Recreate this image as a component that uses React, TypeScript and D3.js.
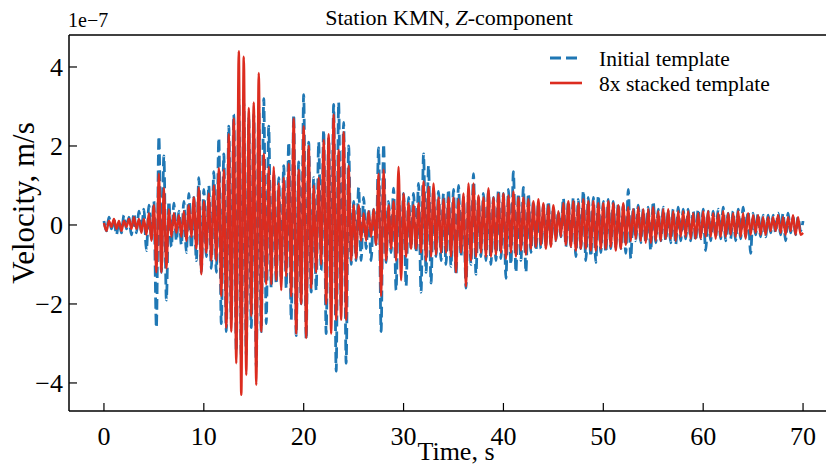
import React from "react";
import * as d3 from "d3";

// turning points of the traces, one every STEP seconds starting at t = 0
const STEP = 0.25;

// values in units of 1e-7 m/s, four per second (one row = one second)
const initialTemplate = [
  0.10, -0.15, 0.20, -0.10,
  0.15, -0.25, 0.10, -0.20,
  0.25, -0.10, 0.20, -0.25,
  0.30, -0.20, 0.35, -0.15,
  0.40, -0.65, 0.50, -0.35,
  0.60, -2.60, 2.25, -1.20,
  1.75, -1.90, 0.60, -0.55,
  0.55, -0.40, 0.35, -0.50,
  0.60, -0.70, 0.80, -0.60,
  0.70, -0.90, 1.20, -1.20,
  0.90, -0.80, 1.00, -1.10,
  1.35, -1.20, 2.20, -2.50,
  1.80, -2.70, 2.50, -2.40,
  2.80, -3.20, 3.20, -3.30,
  3.10, -3.30, 2.70, -2.60,
  2.80, -3.60, 3.00, -2.70,
  3.20, -2.50, 2.50, -1.60,
  1.30, -1.50, 1.20, -1.40,
  1.50, -1.60, 2.10, -2.40,
  2.80, -2.80, 1.60, -2.00,
  3.30, -2.90, 2.10, -1.70,
  1.20, -1.65, 2.10, -1.15,
  2.40, -2.75, 2.20, -2.00,
  3.05, -3.70, 3.10, -2.10,
  2.60, -3.50, 2.00, -1.00,
  0.60, -0.90, 0.95, -0.90,
  0.70, -0.60, 0.40, -0.90,
  0.40, -0.50, 1.95, -2.70,
  2.05, -0.95, 0.60, -0.70,
  0.93, -1.65, 0.90, -0.80,
  0.80, -1.55, 0.70, -0.60,
  0.80, -0.70, 1.05, -1.70,
  1.80, -1.20, 1.50, -1.47,
  0.90, -0.80, 0.85, -0.90,
  0.80, -1.00, 0.90, -1.05,
  0.90, -1.27, 1.00, -0.80,
  0.70, -1.60, 0.80, -1.00,
  1.30, -1.25, 0.70, -0.80,
  0.80, -0.90, 0.85, -1.00,
  0.70, -0.90, 0.90, -0.85,
  0.80, -1.35, 0.90, -1.00,
  1.35, -1.20, 0.80, -0.90,
  0.95, -1.20, 0.80, -0.70,
  0.60, -0.65, 0.55, -0.60,
  0.50, -0.55, 0.60, -0.50,
  0.45, -0.40, 0.35, -0.30,
  0.68, -0.55, 0.60, -0.55,
  0.70, -0.80, 0.65, -0.60,
  0.87, -0.90, 0.70, -0.80,
  0.70, -0.95, 0.75, -0.70,
  0.60, -0.70, 0.65, -0.60,
  0.60, -0.55, 0.55, -0.60,
  0.50, -0.72, 0.90, -0.85,
  0.45, -0.40, 0.50, -0.45,
  0.40, -0.45, 0.45, -0.65,
  0.60, -0.45, 0.40, -0.40,
  0.45, -0.40, 0.35, -0.45,
  0.40, -0.50, 0.45, -0.40,
  0.40, -0.35, 0.40, -0.40,
  0.35, -0.40, 0.40, -0.35,
  0.40, -0.65, 0.35, -0.40,
  0.35, -0.30, 0.40, -0.35,
  0.45, -0.40, 0.30, -0.35,
  0.35, -0.40, 0.40, -0.35,
  0.45, -0.30, 0.35, -0.72,
  0.30, -0.25, 0.30, -0.30,
  0.25, -0.30, 0.25, -0.20,
  0.25, -0.20, 0.30, -0.25,
  0.30, -0.40, 0.30, -0.20,
  0.20, -0.25, 0.20, -0.15,
  0.10,
];

const stackedTemplate = [
  0.05, -0.15, 0.10, -0.05,
  0.15, -0.10, 0.10, -0.15,
  0.10, -0.05, 0.15, -0.10,
  0.20, -0.10, 0.15, -0.20,
  0.15, -0.25, 0.30, -0.40,
  0.50, -1.20, 1.30, -1.20,
  0.94, -1.10, 0.40, -0.30,
  0.30, -0.20, 0.25, -0.30,
  0.35, -0.40, 0.50, -0.30,
  0.70, -0.60, 0.95, -1.25,
  0.60, -0.70, 0.80, -0.90,
  1.00, -0.90, 1.44, -1.80,
  1.40, -2.60, 2.30, -2.70,
  2.70, -3.50, 4.40, -4.30,
  4.26, -3.80, 2.96, -2.30,
  3.10, -4.05, 3.85, -2.70,
  1.80, -1.50, 1.47, -1.50,
  1.47, -1.40, 1.05, -1.65,
  1.20, -1.30, 1.55, -1.80,
  2.70, -2.75, 1.40, -2.00,
  2.50, -2.86, 2.00, -1.60,
  1.00, -1.20, 1.20, -1.00,
  2.15, -2.00, 2.30, -2.75,
  2.80, -2.40, 1.90, -2.40,
  2.35, -2.40, 1.50, -0.90,
  0.50, -0.85, 0.50, -0.40,
  0.30, -0.40, 0.35, -0.30,
  0.40, -0.50, 1.30, -1.80,
  1.40, -0.90, 0.50, -0.60,
  0.60, -0.90, 1.47, -1.40,
  0.80, -0.80, 0.55, -0.60,
  0.50, -0.60, 0.55, -0.70,
  1.10, -0.90, 0.97, -0.80,
  1.05, -0.75, 0.70, -0.70,
  0.65, -0.70, 0.70, -0.80,
  0.70, -1.20, 0.65, -0.70,
  0.80, -1.56, 1.05, -0.90,
  1.05, -0.80, 0.75, -0.70,
  0.70, -0.80, 0.93, -0.80,
  0.70, -0.75, 0.80, -0.70,
  0.80, -0.85, 0.75, -0.70,
  0.85, -0.80, 0.70, -0.65,
  0.70, -0.75, 0.65, -0.60,
  0.60, -0.55, 0.65, -0.50,
  0.55, -0.60, 0.50, -0.55,
  0.50, -0.40, 0.35, -0.30,
  0.55, -0.50, 0.60, -0.55,
  0.60, -0.65, 0.55, -0.60,
  0.65, -0.60, 0.60, -0.65,
  0.60, -0.65, 0.55, -0.60,
  0.55, -0.60, 0.60, -0.55,
  0.55, -0.65, 0.50, -0.60,
  0.55, -0.50, 0.45, -0.40,
  0.40, -0.35, 0.45, -0.40,
  0.40, -0.45, 0.40, -0.45,
  0.45, -0.40, 0.35, -0.40,
  0.40, -0.35, 0.40, -0.35,
  0.35, -0.40, 0.35, -0.30,
  0.35, -0.30, 0.35, -0.35,
  0.30, -0.35, 0.30, -0.35,
  0.35, -0.30, 0.35, -0.30,
  0.30, -0.35, 0.30, -0.30,
  0.35, -0.30, 0.30, -0.25,
  0.30, -0.30, 0.35, -0.30,
  0.30, -0.35, 0.30, -0.25,
  0.25, -0.20, 0.25, -0.25,
  0.20, -0.25, 0.20, -0.15,
  0.20, -0.15, 0.25, -0.20,
  0.20, -0.25, 0.20, -0.15,
  0.25, -0.25, 0.20, -0.25,
  -0.20,
];

const seriesNames = ["Initial template", "8x stacked template"];
const xTicks = [0, 10, 20, 30, 40, 50, 60, 70];
const yTicks = [-4, -2, 0, 2, 4];

const BLUE = "#1f77b4";
const RED = "#dc2c1f";
const FONT = "'Liberation Serif', 'Times New Roman', serif";

export default function App() {
  const x = d3.scaleLinear().domain([-3.5, 73.5]).range([69, 838]);
  const y = d3.scaleLinear().domain([-4.71, 4.81]).range([411, 35]);

  const line = d3
    .line<number>()
    .x((d, i) => x(i * STEP))
    .y((d) => y(d))
    .curve(d3.curveMonotoneX);

  const minus = (v: number) => (v < 0 ? "\u2212" + Math.abs(v) : String(v));

  return (
    <svg
      width={826}
      height={466}
      style={{ position: "absolute", left: 0, top: 0, background: "#fff" }}
      fontFamily={FONT}
    >
      {/* traces */}
      <path
        d={line(initialTemplate) || ""}
        fill="none"
        stroke={BLUE}
        strokeWidth={2.8}
        strokeDasharray="11,5"
      />
      <path d={line(stackedTemplate) || ""} fill="none" stroke={RED} strokeWidth={2.4} strokeLinejoin="round" />

      {/* spines */}
      <line x1={69} x2={826} y1={35} y2={35} stroke="#000" strokeWidth={1.5} />
      <line x1={69} x2={826} y1={411} y2={411} stroke="#000" strokeWidth={1.5} />
      <line x1={69} x2={69} y1={35} y2={411} stroke="#000" strokeWidth={1.5} />

      {/* x ticks */}
      {xTicks.map((t) => (
        <g key={"x" + t}>
          <line x1={x(t)} x2={x(t)} y1={411} y2={403} stroke="#000" strokeWidth={1.2} />
          <text x={x(t)} y={445} fontSize={26} textAnchor="middle">
            {t}
          </text>
        </g>
      ))}
      <text x={456} y={460} fontSize={26} textAnchor="middle">
        Time, s
      </text>

      {/* y ticks */}
      {yTicks.map((t) => (
        <g key={"y" + t}>
          <line x1={69} x2={77} y1={y(t)} y2={y(t)} stroke="#000" strokeWidth={1.2} />
          <text x={63} y={y(t)} dy="0.35em" fontSize={26} textAnchor="end">
            {minus(t)}
          </text>
        </g>
      ))}
      <text transform={`translate(34,203) rotate(-90)`} fontSize={31} textAnchor="middle">
        Velocity, m/s
      </text>
      <text x={68} y={27} fontSize={20}>
        1e{"\u2212"}7
      </text>

      {/* title */}
      <text x={449} y={25} fontSize={22} textAnchor="middle">
        Station KMN, <tspan fontStyle="italic">Z</tspan>-component
      </text>

      {/* legend */}
      <g>
        <line x1={550} x2={582} y1={58} y2={58} stroke={BLUE} strokeWidth={3} strokeDasharray="11,5" />
        <text x={599} y={58} dy="0.35em" fontSize={21.5}>
          {seriesNames[0]}
        </text>
        <line x1={550} x2={582} y1={83} y2={83} stroke={RED} strokeWidth={2.6} />
        <text x={599} y={83} dy="0.35em" fontSize={21.5}>
          {seriesNames[1]}
        </text>
      </g>
    </svg>
  );
}
